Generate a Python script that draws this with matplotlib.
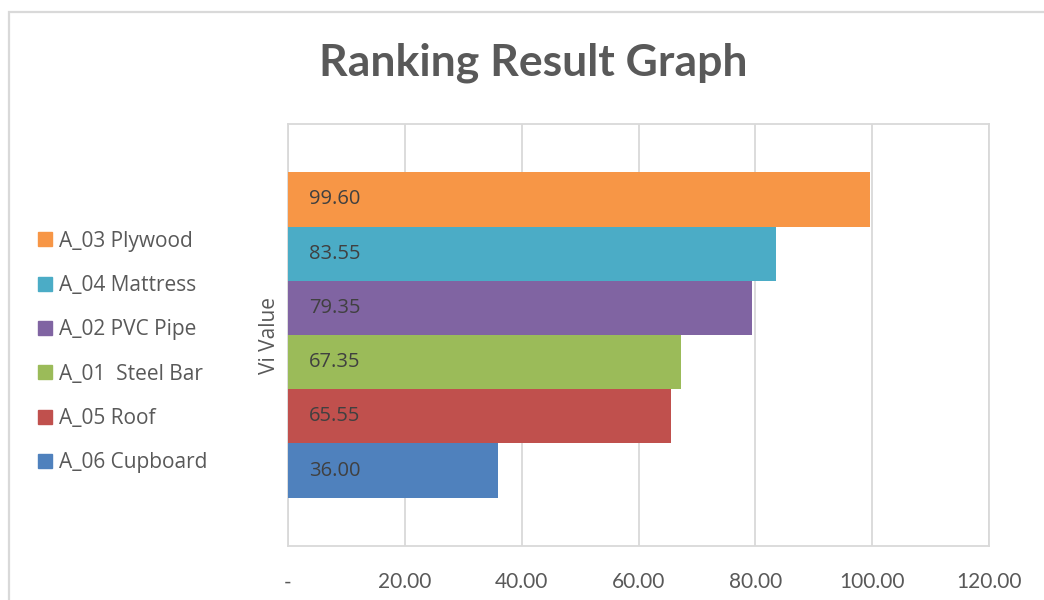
import numpy as np
import matplotlib.pyplot as plt
from matplotlib.patches import Rectangle
from matplotlib.lines import Line2D

# data, bottom to top
names = ["A_06 Cupboard", "A_05 Roof", "A_01  Steel Bar", "A_02 PVC Pipe", "A_04 Mattress", "A_03 Plywood"]
vi_values = [36.00, 65.55, 67.35, 79.35, 83.55, 99.60]
colors = ["#4F81BD", "#C0504D", "#9BBB59", "#8064A2", "#4BACC6", "#F79646"]
x_ticks = [0, 20, 40, 60, 80, 100, 120]
x_ticklabels = ["-", "20.00", "40.00", "60.00", "80.00", "100.00", "120.00"]

grey = "#595959"
plt.rcParams['font.family'] = ['Lato', 'DejaVu Sans']
body_font = ['Open Sans', 'DejaVu Sans']

fig = plt.figure(figsize=(10.44, 6), dpi=100)

# chart border (light grey, runs off the right and bottom edge)
fig.patches.append(Rectangle((9/1044, -0.1), 1.2, 1 - 12/600 + 0.1, transform=fig.transFigure,
                             fill=False, edgecolor="#D9D9D9", linewidth=1.6))

ax = fig.add_axes([288/1044, 1 - 546/600, 701/1044, 422/600])

pos = np.arange(len(vi_values))
ax.barh(pos, vi_values, height=1.0, color=colors, zorder=3)

for p, v in zip(pos, vi_values):
    ax.text(3.6, p, f"{v:.2f}", va="center", ha="left", fontsize=14.5, color="#404040",
            family=body_font, zorder=4)

ax.set_xlim(0, 120)
ax.set_ylim(-1.39, 6.39)
ax.set_xticks(x_ticks)
ax.set_xticklabels(x_ticklabels, fontsize=15, color=grey)
ax.set_yticks([])
ax.tick_params(axis="x", length=0, pad=19)
ax.grid(axis="x", color="#D9D9D9", linewidth=1.3, zorder=0)
for s in ax.spines.values():
    s.set_color("#D9D9D9")
    s.set_linewidth(1.3)

ax.set_ylabel("Vi Value", fontsize=15, color=grey, labelpad=6, family=body_font)

fig.text(533/1044, 1 - 63/600, "Ranking Result Graph", ha="center", va="center",
         fontsize=32, fontweight="bold", color=grey)

handles = [Line2D([], [], marker="s", linestyle="none", markersize=10, color=c) for c in colors[::-1]]
fig.legend(handles, names[::-1], loc="center left", bbox_to_anchor=(16/1044, 1 - 352/600),
           frameon=False, prop={'family': body_font, 'size': 15}, labelcolor=grey,
           labelspacing=1.12, handletextpad=0.15, handlelength=1.0)

plt.savefig("out.png", dpi=100)
